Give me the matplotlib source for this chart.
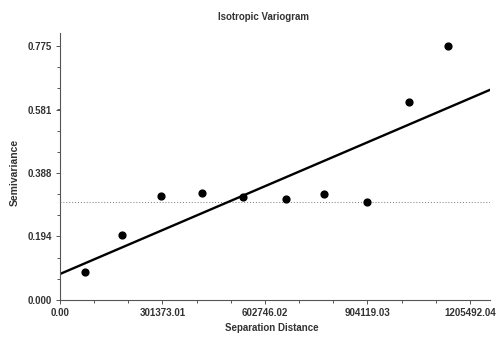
import numpy as np
import matplotlib
matplotlib.use("Agg")
import matplotlib.pyplot as plt
from matplotlib.ticker import FixedLocator

plt.rcParams['font.family'] = ['Liberation Sans', 'DejaVu Sans']

lag_dist = [73600, 181700, 297500, 417400, 537000, 664900, 777700, 903500, 1025100, 1140900]
semivar = [0.0865, 0.1986, 0.3187, 0.3278, 0.3156, 0.3076, 0.3238, 0.3004, 0.604, 0.774]

# linear model fit
nugget = 0.0794
slope = 4.445e-7
sill = 0.2985  # sample variance, dotted line

x_ticks = [0.00, 301373.01, 602746.02, 904119.03, 1205492.04]
y_ticks = [0.000, 0.194, 0.388, 0.581, 0.775]
x_max = 1264700
y_max = 0.815

fig = plt.figure(figsize=(4.97, 3.4), dpi=100)
ax = fig.add_axes([60 / 497, 1 - 300 / 340, 430 / 497, 267 / 340])

xs = np.array([0, x_max])
ax.plot(xs, nugget + slope * xs, color='black', lw=1.7, zorder=2)
ax.axhline(sill, color='#777777', lw=0.7, ls=(0, (1, 2)), zorder=1)
ax.scatter(lag_dist, semivar, s=24, color='black', zorder=3)

ax.set_xlim(0, x_max)
ax.set_ylim(0, y_max)
ax.xaxis.set_major_locator(FixedLocator(x_ticks))
ax.yaxis.set_major_locator(FixedLocator(y_ticks))
ax.xaxis.set_minor_locator(FixedLocator([x_ticks[1] / 3 * i for i in range(13)]))
ax.yaxis.set_minor_locator(FixedLocator([y_ticks[1] / 3 * i for i in range(13)]))
ax.set_xticklabels(['%.2f' % v for v in x_ticks])
ax.set_yticklabels(['%.3f' % v for v in y_ticks])

for s in ['top', 'right']:
    ax.spines[s].set_visible(False)
for s in ['left', 'bottom']:
    ax.spines[s].set_color('#555555')
    ax.spines[s].set_linewidth(0.8)

ax.tick_params(which='both', direction='out', colors='#555555', width=0.7)
ax.tick_params(which='major', length=3, labelsize=7, labelcolor='#333333', pad=3)
ax.tick_params(which='minor', length=2)
for lbl in ax.get_xticklabels() + ax.get_yticklabels():
    lbl.set_fontweight('bold')

fig.text(264 / 497, 1 - 17 / 340, 'Isotropic Variogram', ha='center', va='center',
         fontsize=7, fontweight='bold', color='#333333')
fig.text(272 / 497, 1 - 328 / 340, 'Separation Distance', ha='center', va='center',
         fontsize=7, fontweight='bold', color='#333333')
fig.text(15 / 497, 1 - 172 / 340, 'Semivariance', ha='center', va='center', rotation=90,
         fontsize=7.5, fontweight='bold', color='#333333')

fig.savefig('out.png', dpi=100)
